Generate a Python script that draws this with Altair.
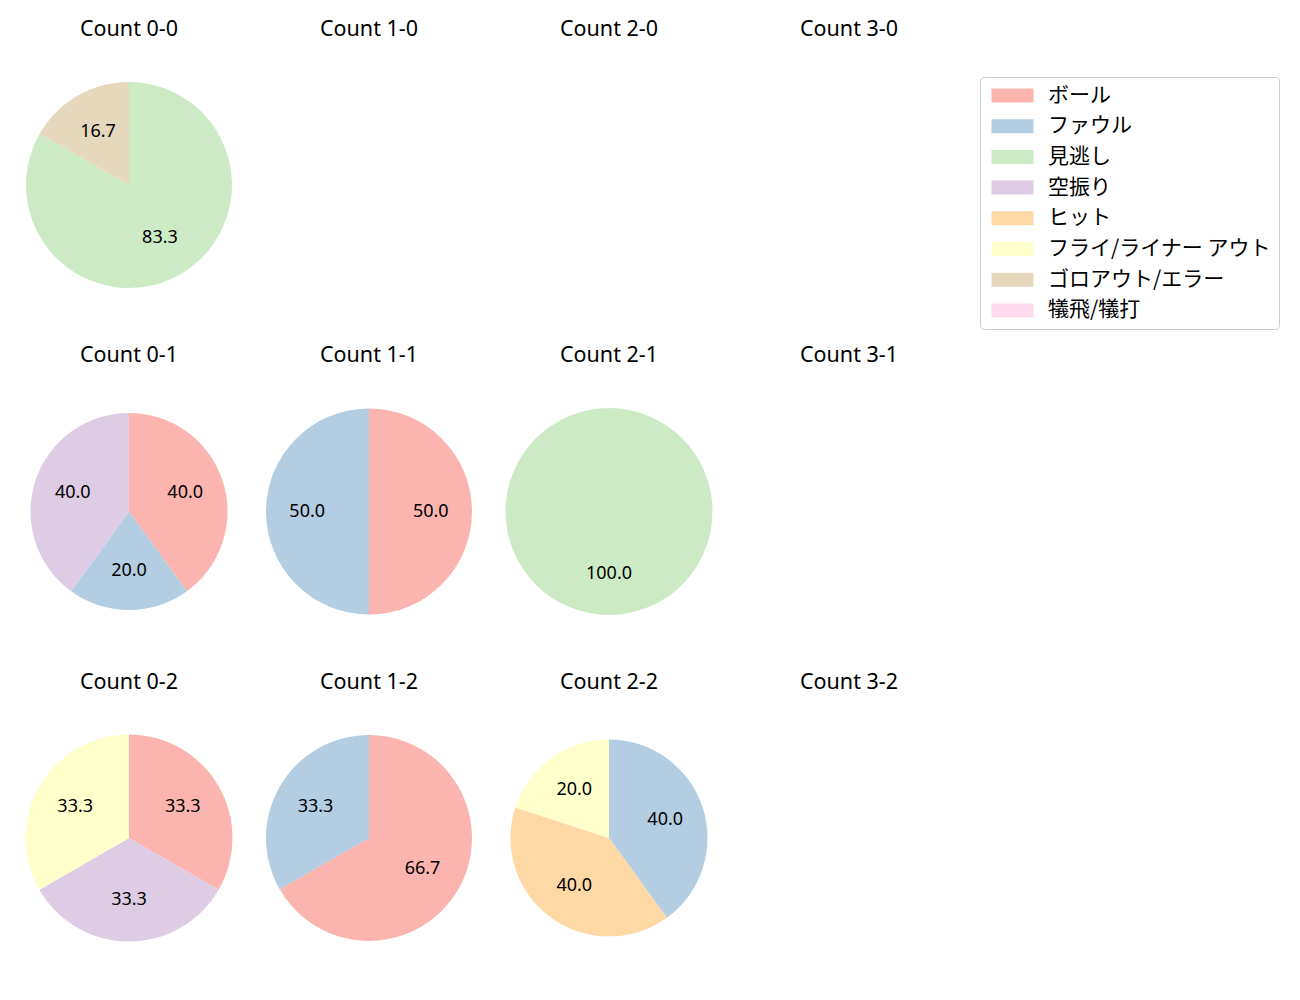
import altair as alt
import pandas as pd

categories = ["ボール", "ファウル", "見逃し", "空振り", "ヒット",
              "フライ/ライナー アウト", "ゴロアウト/エラー", "犠飛/犠打"]
colors = ["#fbb4ae", "#b3cde3", "#ccebc5", "#decbe4", "#fed9a6",
          "#ffffcc", "#e5d8bd", "#fddaec"]

# rows = strikes, columns = balls ; values in percent per category (order above)
panel_titles = [
    ["Count 0-0", "Count 1-0", "Count 2-0", "Count 3-0"],
    ["Count 0-1", "Count 1-1", "Count 2-1", "Count 3-1"],
    ["Count 0-2", "Count 1-2", "Count 2-2", "Count 3-2"],
]
vals_0_0 = [0, 0, 83.3, 0, 0, 0, 16.7, 0]
vals_1_0 = [0, 0, 0, 0, 0, 0, 0, 0]
vals_2_0 = [0, 0, 0, 0, 0, 0, 0, 0]
vals_3_0 = [0, 0, 0, 0, 0, 0, 0, 0]
vals_0_1 = [40.0, 20.0, 0, 40.0, 0, 0, 0, 0]
vals_1_1 = [50.0, 50.0, 0, 0, 0, 0, 0, 0]
vals_2_1 = [0, 0, 100.0, 0, 0, 0, 0, 0]
vals_3_1 = [0, 0, 0, 0, 0, 0, 0, 0]
vals_0_2 = [33.3, 0, 0, 33.3, 0, 33.3, 0, 0]
vals_1_2 = [66.7, 33.3, 0, 0, 0, 0, 0, 0]
vals_2_2 = [0, 40.0, 0, 0, 40.0, 20.0, 0, 0]
vals_3_2 = [0, 0, 0, 0, 0, 0, 0, 0]

panel_values = [
    [vals_0_0, vals_1_0, vals_2_0, vals_3_0],
    [vals_0_1, vals_1_1, vals_2_1, vals_3_1],
    [vals_0_2, vals_1_2, vals_2_2, vals_3_2],
]
panel_radius = [
    [103, 103, 103, 103],
    [98.5, 103, 103.5, 103],
    [103.5, 103, 98.5, 103],
]

FONT = "Noto Sans CJK JP"
LATIN = "Noto Sans"
PW, PH = 230, 280

color_scale = alt.Scale(domain=categories, range=colors)


def make_panel(title, vals, r):
    df = pd.DataFrame({"cat": categories, "value": vals, "idx": list(range(len(categories)))})
    base = alt.Chart(df).transform_filter("datum.value > 0")
    theta = alt.Theta("value:Q", stack=True)
    arc = base.mark_arc(radius=r).encode(
        theta=theta,
        color=alt.Color("cat:N", scale=color_scale,
                        legend=alt.Legend(title=None)),
        order=alt.Order("idx:Q"),
    )
    txt = base.mark_text(radius=0.6 * r, font=LATIN, fontSize=18, color="black").encode(
        theta=theta,
        text=alt.Text("value:Q", format=".1f"),
        order=alt.Order("idx:Q"),
    )
    return alt.layer(arc, txt).properties(
        width=PW, height=PH,
        title=alt.TitleParams(title, fontSize=21.5, font=LATIN, fontWeight="normal",
                              offset=5, anchor="middle", color="black"),
    )


rows = []
for ri in range(3):
    panels = [make_panel(panel_titles[ri][ci], panel_values[ri][ci], panel_radius[ri][ci])
              for ci in range(4)]
    rows.append(alt.hconcat(*panels, spacing=10))

chart = alt.vconcat(*rows, spacing=19.5).resolve_scale(
    theta="independent", color="shared"
).properties(
    padding={"left": 6, "top": 10, "right": 10, "bottom": 10}
).configure_view(stroke=None).configure_legend(
    orient="none", legendX=966, legendY=32,
    labelFont=FONT, labelFontSize=21, labelColor="black", labelLimit=400,
    symbolType="M-3,-1H3V1H-3Z", symbolSize=196, symbolStrokeWidth=0,
    symbolOffset=14, labelOffset=25, rowPadding=8.7, padding=8,
    strokeColor="#cccccc", cornerRadius=4, fillColor="white",
)

chart.save("out.html", embed_options={"renderer": "svg", "actions": False})
